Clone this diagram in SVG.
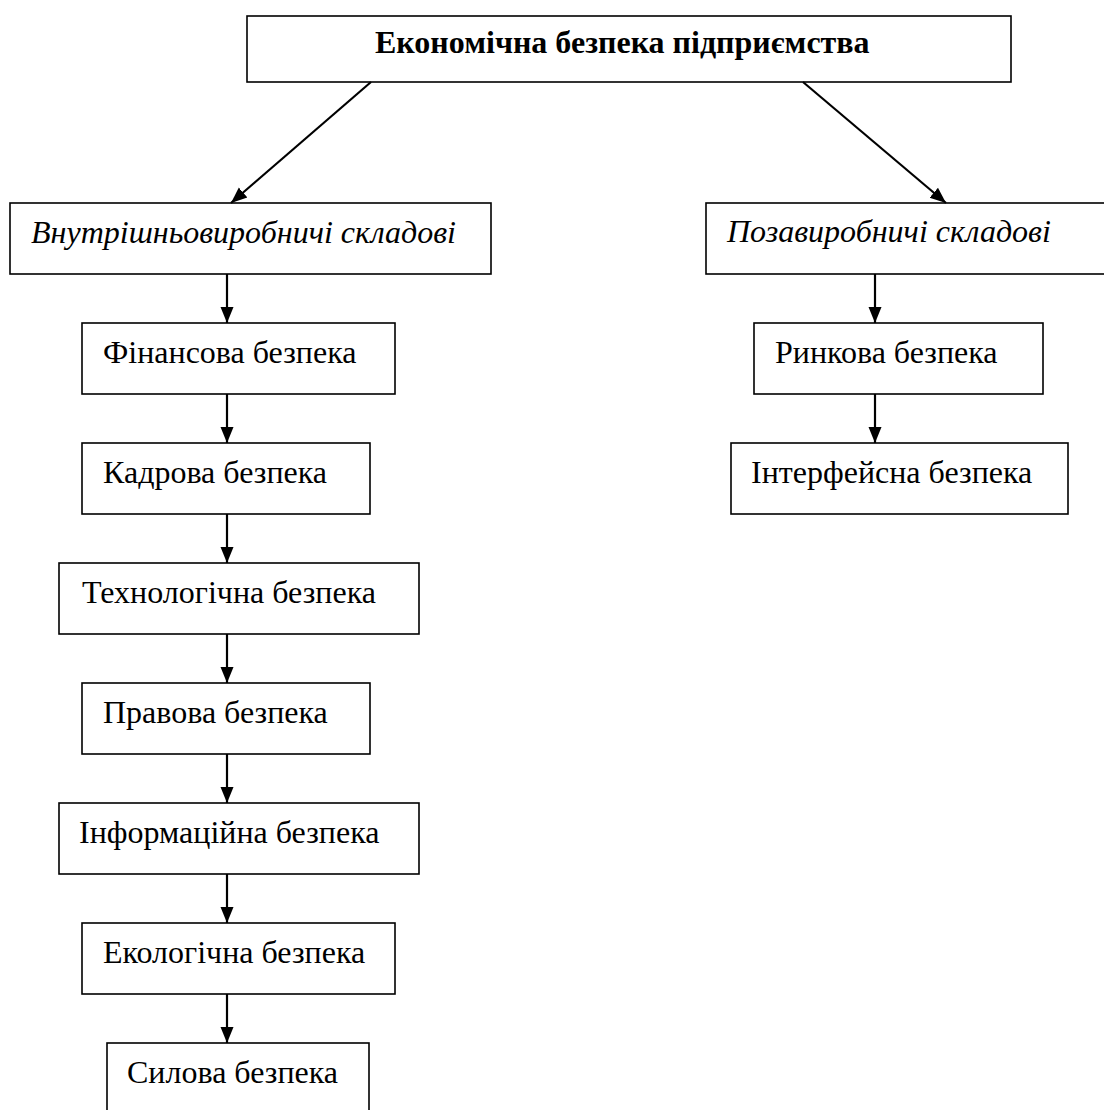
<svg xmlns="http://www.w3.org/2000/svg" width="1104" height="1110" viewBox="0 0 1104 1110">
<style>
rect.box{fill:#fff;stroke:#000;stroke-width:1.6}
text{font-family:"Liberation Serif","Times New Roman",serif;font-size:32px;fill:#000}
.title{font-weight:bold}
.it{font-style:italic}
.conn line{stroke:#000;stroke-width:2.2}
</style>
<defs>
<marker id="arr" markerUnits="userSpaceOnUse" markerWidth="16" markerHeight="16" viewBox="0 0 16 16" refX="16" refY="8" orient="auto">
<path d="M0,1.5 L16,8 L0,14.5 Z" fill="#000"/>
</marker>
</defs>
<rect width="1104" height="1110" fill="#fff"/>
<g id="n-root"><rect class="box" x="247" y="16" width="764" height="66"/><text class="title" x="375" y="53">Економічна безпека підприємства</text></g>
<g id="n-internal"><rect class="box" x="10" y="203" width="481" height="71"/><text class="it" x="31" y="243">Внутрішньовиробничі складові</text></g>
<g id="n-external"><rect class="box" x="706" y="203" width="410" height="71"/><text class="it" x="727" y="242">Позавиробничі складові</text></g>
<g id="n-fin"><rect class="box" x="82" y="323" width="313" height="71"/><text x="103" y="363">Фінансова безпека</text></g>
<g id="n-kadr"><rect class="box" x="82" y="443" width="288" height="71"/><text x="103" y="483">Кадрова безпека</text></g>
<g id="n-tech"><rect class="box" x="59" y="563" width="360" height="71"/><text x="82" y="603">Технологічна безпека</text></g>
<g id="n-prav"><rect class="box" x="82" y="683" width="288" height="71"/><text x="103" y="723">Правова безпека</text></g>
<g id="n-info"><rect class="box" x="59" y="803" width="360" height="71"/><text x="79" y="843">Інформаційна безпека</text></g>
<g id="n-eco"><rect class="box" x="82" y="923" width="313" height="71"/><text x="103" y="963">Екологічна безпека</text></g>
<g id="n-sil"><rect class="box" x="107" y="1043" width="262" height="72"/><text x="127" y="1083">Силова безпека</text></g>
<g id="n-rynk"><rect class="box" x="754" y="323" width="289" height="71"/><text x="775" y="363">Ринкова безпека</text></g>
<g id="n-intf"><rect class="box" x="731" y="443" width="337" height="71"/><text x="751" y="483">Інтерфейсна безпека</text></g>
<g id="connectors" class="conn">
<line x1="371" y1="82" x2="231" y2="203" marker-end="url(#arr)"/>
<line x1="803" y1="82" x2="946" y2="203" marker-end="url(#arr)"/>
<line x1="227" y1="274" x2="227" y2="323" marker-end="url(#arr)"/>
<line x1="227" y1="394" x2="227" y2="443" marker-end="url(#arr)"/>
<line x1="227" y1="514" x2="227" y2="563" marker-end="url(#arr)"/>
<line x1="227" y1="634" x2="227" y2="683" marker-end="url(#arr)"/>
<line x1="227" y1="754" x2="227" y2="803" marker-end="url(#arr)"/>
<line x1="227" y1="874" x2="227" y2="923" marker-end="url(#arr)"/>
<line x1="227" y1="994" x2="227" y2="1043" marker-end="url(#arr)"/>
<line x1="875" y1="274" x2="875" y2="323" marker-end="url(#arr)"/>
<line x1="875" y1="394" x2="875" y2="443" marker-end="url(#arr)"/>
</g>
</svg>
